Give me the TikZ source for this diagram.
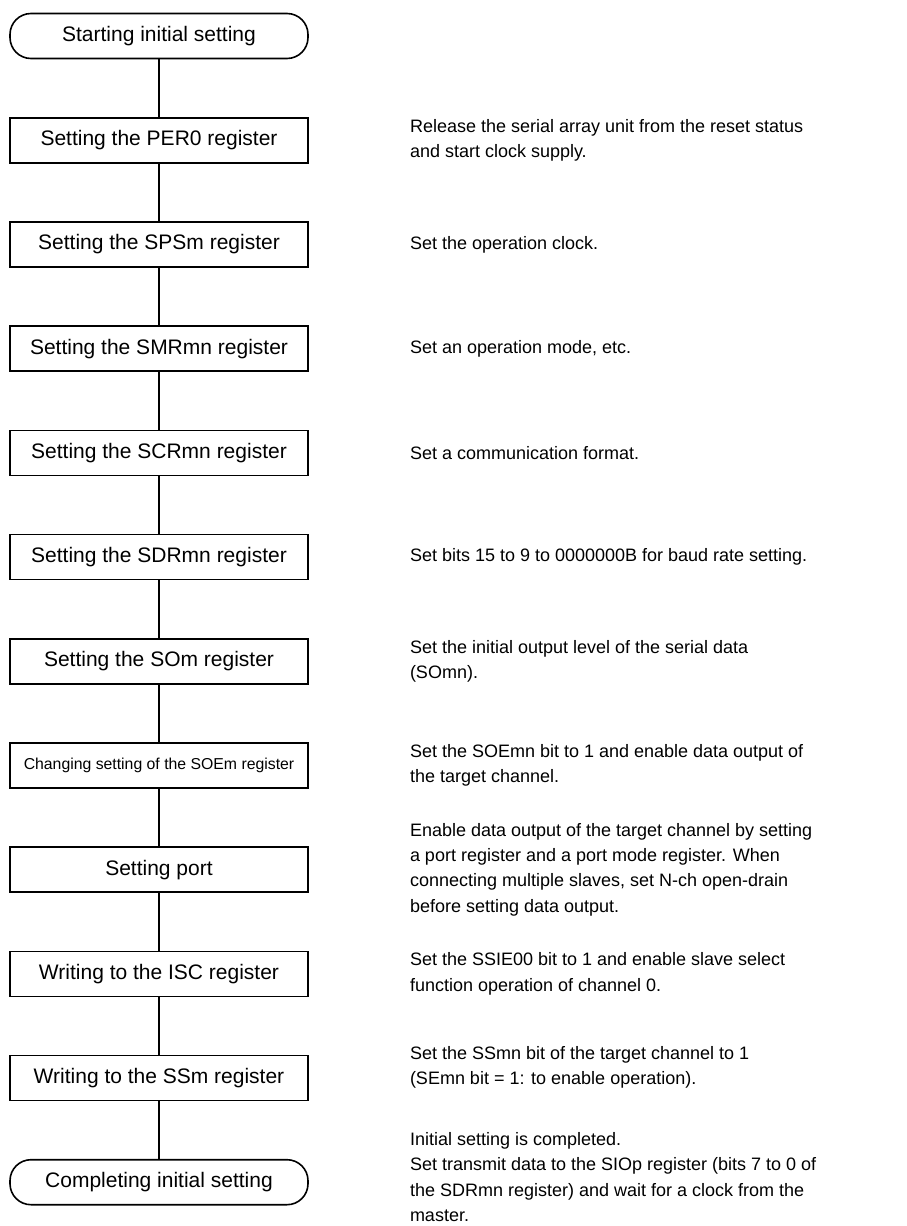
\documentclass[tikz,border=0pt]{standalone}
\usepackage{fontspec}
\setmainfont{Liberation Sans}
\usepackage{tikz}
\usetikzlibrary{positioning}
\tikzset{
  stepbox/.style={draw,line width=1.6pt,minimum width=298pt,minimum height=45pt,inner sep=2pt,font=\fontsize{21}{25}\selectfont},
  termbox/.style={stepbox,rounded corners=21pt},
  notetext/.style={inner sep=0pt,align=left,anchor=west,font=\fontsize{18}{25.3}\selectfont},
  flowline/.style={draw,line width=1.6pt},
}

\begin{document}
\begin{tikzpicture}[x=1pt,y=-1pt,node distance=57.6pt]
    \useasboundingbox (0,0) rectangle (906,1226);
    \node[termbox] (start) at (159,36) {Starting initial setting};
    \node[stepbox,below=of start] (per) {Setting the PER0 register};
    \node[stepbox,below=of per] (sps) {Setting the SPSm register};
    \node[stepbox,below=of sps] (smr) {Setting the SMRmn register};
    \node[stepbox,below=of smr] (scr) {Setting the SCRmn register};
    \node[stepbox,below=of scr] (sdr) {Setting the SDRmn register};
    \node[stepbox,below=of sdr] (som) {Setting the SOm register};
    \node[stepbox,below=of som,font=\fontsize{15.8}{19}\selectfont] (soe) {Changing setting of the SOEm register};
    \node[stepbox,below=of soe] (port) {Setting port};
    \node[stepbox,below=of port] (isc) {Writing to the ISC register};
    \node[stepbox,below=of isc] (ssm) {Writing to the SSm register};
    \node[termbox,below=of ssm] (done) {Completing initial setting};
    \draw[flowline] (start)--(per); \draw[flowline] (per)--(sps); \draw[flowline] (sps)--(smr);
    \draw[flowline] (smr)--(scr); \draw[flowline] (scr)--(sdr); \draw[flowline] (sdr)--(som);
    \draw[flowline] (som)--(soe); \draw[flowline] (soe)--(port); \draw[flowline] (port)--(isc);
    \draw[flowline] (isc)--(ssm); \draw[flowline] (ssm)--(done);
    % notes on the right
    \node[notetext,right=101pt of per] (perNote) {Release the serial array unit from the reset status\\and start clock supply.};
    \node[notetext,right=101pt of sps] (spsNote) {Set the operation clock.};
    \node[notetext,right=101pt of smr] (smrNote) {Set an operation mode, etc.};
    \node[notetext,right=101pt of scr] (scrNote) {Set a communication format.};
    \node[notetext,right=101pt of sdr] (sdrNote) {Set bits 15 to 9 to 0000000B for baud rate setting.};
    \node[notetext,right=101pt of som] (somNote) {Set the initial output level of the serial data\\(SOmn).};
    \node[notetext,right=101pt of soe] (soeNote) {Set the SOEmn bit to 1 and enable data output of\\the target channel.};
    \node[notetext,right=101pt of port] (portNote) {Enable data output of the target channel by setting\\a port register and a port mode register. When\\connecting multiple slaves, set N-ch open-drain\\before setting data output.};
    \node[notetext,right=101pt of isc] (iscNote) {Set the SSIE00 bit to 1 and enable slave select\\function operation of channel 0.};
    \node[notetext,right=101pt of ssm,yshift=11pt] (ssmNote) {Set the SSmn bit of the target channel to 1\\(SEmn bit = 1: to enable operation).};
    \node[notetext,right=101pt of done,yshift=5pt] (doneNote) {Initial setting is completed.\\Set transmit data to the SIOp register (bits 7 to 0 of\\the SDRmn register) and wait for a clock from the\\master.};
  \end{tikzpicture}
\end{document}
